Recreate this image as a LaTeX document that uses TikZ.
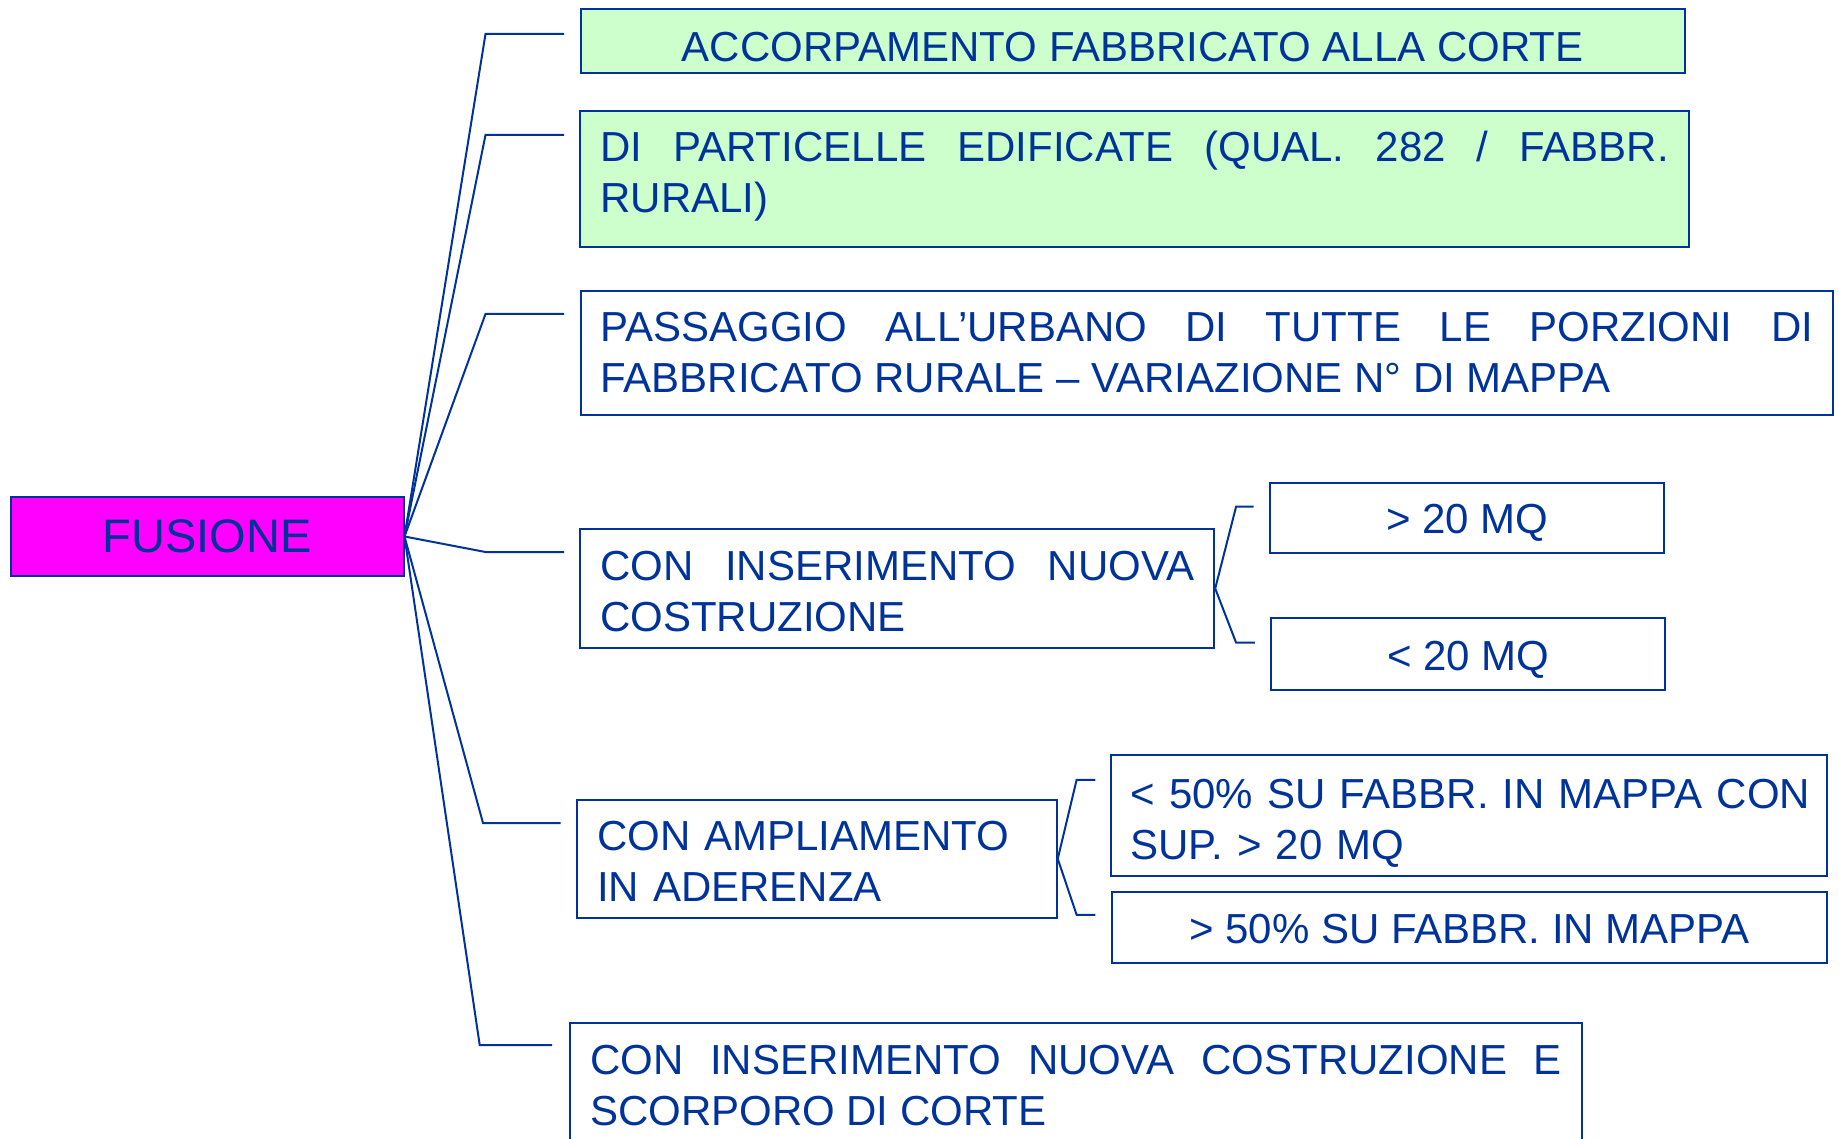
\documentclass[tikz,border=0pt]{standalone}
\usepackage{fontspec}
\setmainfont{Liberation Sans}
\definecolor{dblue}{RGB}{0,51,153}
\definecolor{lgreen}{RGB}{204,255,204}
\definecolor{fmag}{RGB}{255,0,255}
\newcommand{\topstr}[1]{\rule{0pt}{#1pt}}
\newcommand{\botstr}{\rule[-16pt]{0pt}{16pt}}
\begin{document}
\begin{tikzpicture}[x=1pt,y=-1pt,
  box/.style={draw=dblue, line width=2pt, text=dblue, inner xsep=20pt, inner ysep=0pt,
    font=\fontsize{42}{50.8}\selectfont, anchor=center},
  link/.style={draw=dblue, line width=2pt}]
\useasboundingbox (0,0) rectangle (1839,1139);
% root
\node[box, fill=fmag, minimum width=393pt, minimum height=79pt,
  font=\fontsize{47}{56}\selectfont] (fus) at (207,536.5) {FUSIONE};
% level 1 boxes
\node[box, fill=lgreen, minimum width=1104.5pt, minimum height=64pt,
  text height=40pt, text depth=0pt] (b1) at (1132.8,41.3)
  {ACCORPAMENTO FABBRICATO ALLA CORTE};
\node[box, fill=lgreen, minimum width=1108.5pt, minimum height=136pt,
  text width=1068.5pt, align=justify] (b2) at (1134.7,178.7)
  {\topstr{33.1}DI PARTICELLE EDIFICATE (QUAL. 282 / FABBR.\linebreak RURALI)\botstr};
\node[box, minimum width=1252.5pt, minimum height=124pt,
  text width=1212.5pt, align=justify] (b3) at (1206.8,353)
  {\topstr{44.5}PASSAGGIO ALL’URBANO DI TUTTE LE PORZIONI DI\linebreak FABBRICATO RURALE – VARIAZIONE N° DI MAPPA\botstr};
\node[box, minimum width=633.3pt, minimum height=118.4pt,
  text width=594pt, align=justify] (b4) at (897.2,588.5)
  {\topstr{51.7}CON INSERIMENTO NUOVA\linebreak COSTRUZIONE\botstr};
\node[box, minimum width=479.7pt, minimum height=117.7pt,
  text width=439.7pt, align=left] (b5) at (816.9,858.8)
  {\topstr{51.1}CON AMPLIAMENTO\\IN ADERENZA\botstr};
\node[box, minimum width=1012pt, minimum height=124pt,
  text width=972pt, align=justify] (b6) at (1076,1084.7)
  {\topstr{47.3}CON INSERIMENTO NUOVA COSTRUZIONE E\linebreak SCORPORO DI CORTE\botstr};
% level 2 boxes
\node[box, minimum width=394pt, minimum height=70pt,
  text height=32.1pt, text depth=0pt] (s1) at (1467.2,517.7) {> 20 MQ};
\node[box, minimum width=394pt, minimum height=71.6pt,
  text height=32.7pt, text depth=0pt] (s2) at (1468.4,654.2) {< 20 MQ};
\node[box, minimum width=716.6pt, minimum height=118.3pt,
  text width=676.6pt, align=left] (s3) at (1468.9,815.2)
  {\topstr{54.1}\makebox[\linewidth][l]{< 50\% SU FABBR. IN MAPPA CON}\\SUP. > 20 MQ\botstr};
\node[box, minimum width=715.4pt, minimum height=71.6pt,
  text height=31.7pt, text depth=0pt] (s4) at (1469.5,927.5)
  {> 50\% SU FABBR. IN MAPPA};
% connector points
\coordinate (k1) at (485.5,34);   \coordinate (e1) at (564,34);
\coordinate (k2) at (485.5,135);  \coordinate (e2) at (564,135);
\coordinate (k3) at (485.5,314);  \coordinate (e3) at (564,314);
\coordinate (k4) at (485.5,552);  \coordinate (e4) at (564,552);
\coordinate (k5) at (483,823);    \coordinate (e5) at (560.5,823);
\coordinate (k6) at (479.7,1045); \coordinate (e6) at (552,1045);
\coordinate (m1) at (1236.1,506.6); \coordinate (n1) at (1253.7,506.6);
\coordinate (m2) at (1236.1,642.7); \coordinate (n2) at (1254.9,642.7);
\coordinate (m3) at (1076.6,779.9); \coordinate (n3) at (1095.4,779.9);
\coordinate (m4) at (1076.6,914.8); \coordinate (n4) at (1095.4,914.8);
% connectors
\draw[link] (fus.east) -- (k1) -- (e1);
\draw[link] (fus.east) -- (k2) -- (e2);
\draw[link] (fus.east) -- (k3) -- (e3);
\draw[link] (fus.east) -- (k4) -- (e4);
\draw[link] (fus.east) -- (k5) -- (e5);
\draw[link] (fus.east) -- (k6) -- (e6);
\draw[link] (b4.east) -- (m1) -- (n1);
\draw[link] (b4.east) -- (m2) -- (n2);
\draw[link] (b5.east) -- (m3) -- (n3);
\draw[link] (b5.east) -- (m4) -- (n4);
\end{tikzpicture}
\end{document}
